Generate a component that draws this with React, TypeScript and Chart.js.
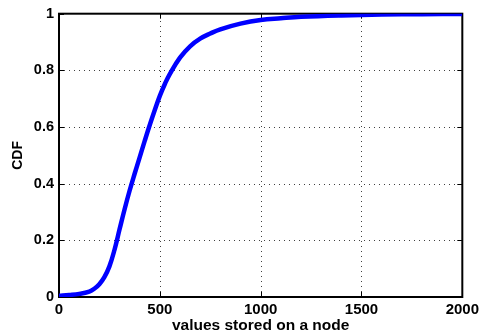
import React, { useEffect, useRef } from "react";
import { Chart, registerables } from "chart.js";

Chart.register(...registerables);

// Empirical CDF of the number of values stored per node
const storedValues = [0, 50, 100, 150, 175, 200, 225, 250, 275, 300, 325, 350, 375, 400, 425, 450, 475, 500, 525, 550, 600, 650, 700, 750, 800, 900, 1000, 1100, 1200, 1400, 1600, 1800, 2000];
const cdfValues = [0.004, 0.007, 0.011, 0.019, 0.029, 0.045, 0.07, 0.108, 0.166, 0.238, 0.309, 0.375, 0.435, 0.493, 0.551, 0.607, 0.66, 0.71, 0.752, 0.788, 0.845, 0.885, 0.912, 0.93, 0.945, 0.965, 0.978, 0.984, 0.989, 0.994, 0.997, 0.998, 0.999];

const xTicks = [0, 500, 1000, 1500, 2000];
const yTicks = [0, 0.2, 0.4, 0.6, 0.8, 1];
const yTickLabels = ["0", "0.2", "0.4", "0.6", "0.8", "1"];

const FONT = "'Liberation Sans', Arial, Helvetica, sans-serif";

// MATLAB-style frame: dotted grid, full box and inward tick marks
const framePlugin = {
  id: "matlabFrame",
  beforeDatasetsDraw(chart: any) {
    const { ctx, chartArea } = chart;
    const { left, right, top, bottom } = chartArea;
    const xs = chart.scales.x;
    const ys = chart.scales.y;
    ctx.save();
    // dotted grid
    ctx.strokeStyle = "rgba(0,0,0,0.75)";
    ctx.lineWidth = 1;
    ctx.setLineDash([1, 4]);
    xTicks.slice(1, -1).forEach((v) => {
      const px = Math.round(xs.getPixelForValue(v)) + 0.5;
      ctx.beginPath();
      ctx.moveTo(px, bottom);
      ctx.lineTo(px, top);
      ctx.stroke();
    });
    yTicks.slice(1, -1).forEach((v) => {
      const py = Math.round(ys.getPixelForValue(v)) + 0.5;
      ctx.beginPath();
      ctx.moveTo(left, py);
      ctx.lineTo(right, py);
      ctx.stroke();
    });
    ctx.setLineDash([]);
    // inward ticks
    ctx.strokeStyle = "#000";
    const tl = 5;
    xTicks.forEach((v) => {
      const px = Math.round(xs.getPixelForValue(v)) + 0.5;
      ctx.beginPath();
      ctx.moveTo(px, bottom);
      ctx.lineTo(px, bottom - tl);
      ctx.moveTo(px, top);
      ctx.lineTo(px, top + tl);
      ctx.stroke();
    });
    yTicks.forEach((v) => {
      const py = Math.round(ys.getPixelForValue(v)) + 0.5;
      ctx.beginPath();
      ctx.moveTo(left, py);
      ctx.lineTo(left + tl, py);
      ctx.moveTo(right, py);
      ctx.lineTo(right - tl, py);
      ctx.stroke();
    });
    // box
    ctx.lineWidth = 2;
    ctx.strokeRect(left, top, right - left, bottom - top);
    ctx.restore();
  },
};

export default function App() {
  const canvasRef = useRef<HTMLCanvasElement | null>(null);

  useEffect(() => {
    const canvas = canvasRef.current;
    if (!canvas) return;
    const chart = new Chart(canvas, {
      type: "line",
      data: {
        datasets: [
          {
            data: storedValues.map((v, i) => ({ x: v, y: cdfValues[i] })),
            borderColor: "#0000ff",
            borderWidth: 4.5,
            pointRadius: 0,
            fill: false,
            tension: 0.4,
          },
        ],
      },
      options: {
        animation: false,
        responsive: false,
        devicePixelRatio: 1,
        layout: { padding: { left: 0, top: 11, right: 18, bottom: 0 } },
        plugins: { legend: { display: false }, tooltip: { enabled: false } },
        scales: {
          x: {
            type: "linear",
            min: 0,
            max: 2000,
            afterBuildTicks: (scale: any) => {
              scale.ticks = xTicks.map((v) => ({ value: v }));
            },
            afterFit: (scale: any) => {
              scale.height = 38;
            },
            ticks: {
              color: "#000",
              padding: 4,
              maxRotation: 0,
              font: { family: FONT, size: 15, weight: "bold" },
              callback: (v: any) => String(v),
            },
            grid: { display: false, drawTicks: false },
            border: { display: false },
            title: {
              display: true,
              text: "values stored on a node",
              color: "#000",
              font: { family: FONT, size: 15.5, weight: "bold" },
              padding: { top: 0, bottom: 0 },
            },
          },
          y: {
            type: "linear",
            min: 0,
            max: 1,
            afterBuildTicks: (scale: any) => {
              scale.ticks = yTicks.map((v) => ({ value: v }));
            },
            afterFit: (scale: any) => {
              scale.width = 59;
            },
            ticks: {
              color: "#000",
              padding: 5,
              font: { family: FONT, size: 14.5, weight: "bold" },
              callback: (v: any) => {
                const i = yTicks.findIndex((t) => Math.abs(t - v) < 1e-9);
                return i >= 0 ? yTickLabels[i] : "";
              },
            },
            grid: { display: false, drawTicks: false },
            border: { display: false },
            title: {
              display: true,
              text: "CDF",
              color: "#000",
              font: { family: FONT, size: 14, weight: "bold" },
              padding: { top: 10, bottom: 0 },
            },
          },
        },
      },
      plugins: [framePlugin],
    });
    return () => chart.destroy();
  }, []);

  return (
    <div style={{ position: "absolute", left: 0, top: 0, width: 483, height: 335, background: "#fff" }}>
      <canvas ref={canvasRef} width={483} height={335} />
    </div>
  );
}
